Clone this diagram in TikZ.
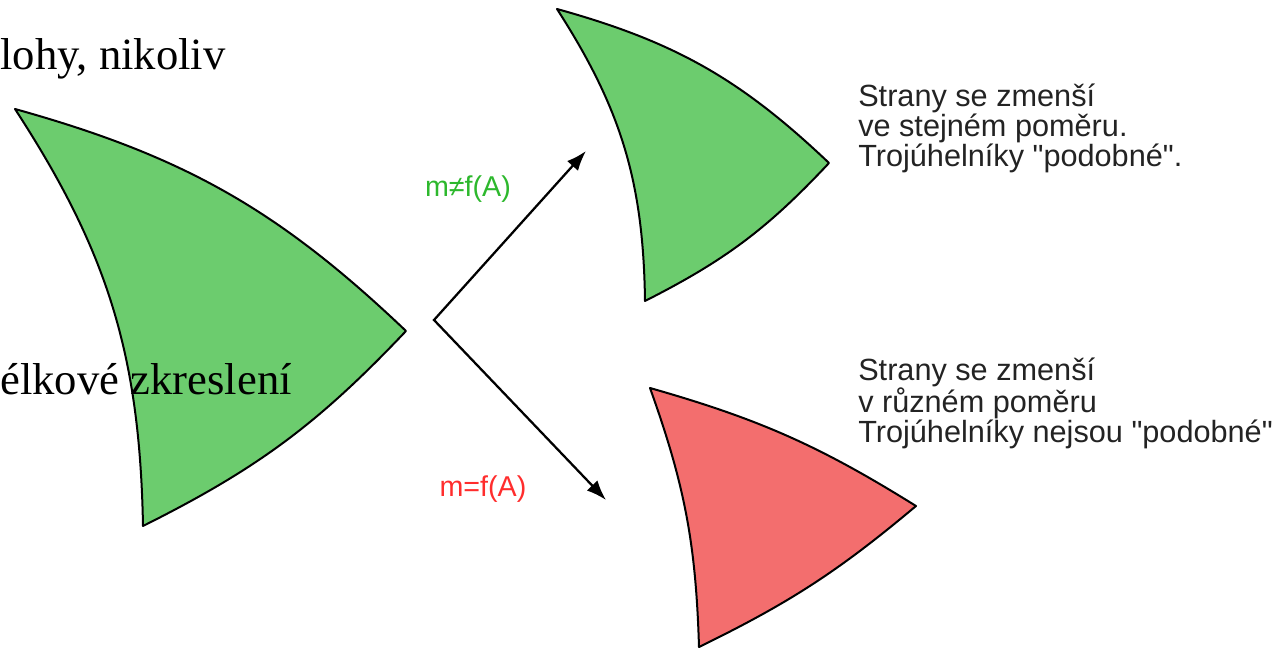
\documentclass[tikz,border=0pt]{standalone}
\usepackage{fontspec}
\setmainfont{Liberation Serif}
\newfontfamily\arialf{Liberation Sans}
\usetikzlibrary{arrows.meta}
\definecolor{shapegreen}{RGB}{108,204,110}
\definecolor{shapered}{RGB}{243,110,110}
\definecolor{labgreen}{RGB}{45,184,45}
\definecolor{labred}{RGB}{255,45,45}
\definecolor{desctext}{RGB}{35,35,35}
\tikzset{
  lens/.style={draw=black, line width=1.5pt, line join=round},
  greenlens/.style={lens, fill=shapegreen},
  redlens/.style={lens, fill=shapered},
  serif/.style={inner sep=0pt, font=\fontsize{33.5pt}{38pt}\selectfont},
  desc/.style={inner sep=0pt, align=left, text=desctext, font=\arialf\fontsize{23pt}{21pt}\selectfont},
  lab/.style={inner sep=0pt, font=\arialf\fontsize{21.5pt}{24pt}\selectfont},
  flow/.style={line width=1.7pt, {Latex[length=15pt,width=11pt]}-{Latex[length=15pt,width=11pt]}}
}
\begin{document}
\begin{tikzpicture}[x=0.75pt,y=-0.75pt]
\useasboundingbox (0,0) rectangle (1275,648);
% big green
\coordinate (A1) at (15,109);
\coordinate (B1) at (406,331);
\coordinate (C1) at (143,526);
\draw[greenlens] (A1) to[bend left=14] (B1) to[bend left=10] (C1) to[bend right=16] cycle;
% small green
\coordinate (A2) at (557,9);
\coordinate (B2) at (829,163);
\coordinate (C2) at (645,301);
\draw[greenlens] (A2) to[bend left=14] (B2) to[bend left=10] (C2) to[bend right=16] cycle;
% red
\coordinate (A3) at (650,388);
\coordinate (B3) at (916,506);
\coordinate (C3) at (699,647);
\draw[redlens] (A3) to[bend left=8] (B3) to[bend left=7] (C3) to[bend right=9] cycle;
% serif fragments
\node[serif, anchor=base west] (t1) at (0,70) {lohy, nikoliv};
\node[serif, anchor=base west] (t2) at (0,395) {élkové zkreslení};
% arrows
\coordinate (fork) at (434,320);
\coordinate (upend) at (586,151);
\coordinate (downend) at (606,500);
\draw[flow] (upend) -- (fork) -- (downend);
% labels
\node[lab, text=labgreen, anchor=base] (lg) at (468,197) {m≠f(A)};
\node[lab, text=labred, anchor=base] (lr) at (483,497) {m=f(A)};
% descriptions
\node[desc, anchor=base west] (d1) at (858,167) {Strany se zmenší\\ve stejném poměru.\\Trojúhelníky "podobné".};
\node[desc, anchor=base west] (d2) at (858,443) {Strany se zmenší\\v různém poměru\\Trojúhelníky nejsou "podobné"};
\end{tikzpicture}
\end{document}
